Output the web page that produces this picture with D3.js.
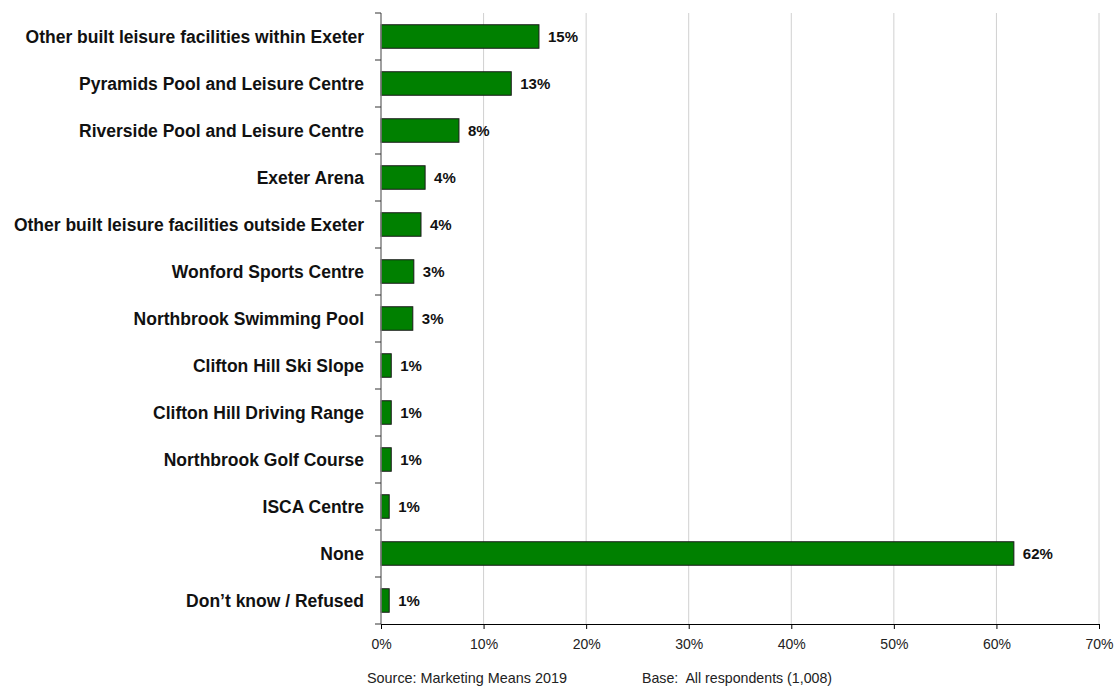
<!DOCTYPE html>
<html><head><meta charset="utf-8">
<script src="https://cdn.jsdelivr.net/npm/d3@7"></script>
<style>body{margin:0;background:#fff}svg{display:block}</style>
</head><body>
<script>
const categories = ["Other built leisure facilities within Exeter","Pyramids Pool and Leisure Centre","Riverside Pool and Leisure Centre","Exeter Arena","Other built leisure facilities outside Exeter","Wonford Sports Centre","Northbrook Swimming Pool","Clifton Hill Ski Slope","Clifton Hill Driving Range","Northbrook Golf Course","ISCA Centre","None","Don\u2019t know / Refused"];
const values = [15.4,12.7,7.6,4.3,3.9,3.2,3.1,1.0,1.0,1.0,0.8,61.7,0.8];
const valueLabels = ["15%","13%","8%","4%","4%","3%","3%","1%","1%","1%","1%","62%","1%"];
const xTicks = [0,10,20,30,40,50,60,70];
const sourceText = "Source: Marketing Means 2019";
const baseText = "Base:  All respondents (1,008)";

const W=1117,H=687;
const m={left:381,right:W-1099,top:13,bottom:H-624};
const FF="'Liberation Sans', Arial, sans-serif";
const svg=d3.select("body").append("svg").attr("width",W).attr("height",H).style("font-family",FF);
const x=d3.scaleLinear().domain([0,70]).range([m.left,W-m.right]);
const y=d3.scaleBand().domain(categories).range([m.top,H-m.bottom]).paddingInner(0.5).paddingOuter(0.25);

// gridlines
svg.append("g").selectAll("line").data(xTicks.slice(1)).join("line")
  .attr("x1",d=>x(d)).attr("x2",d=>x(d)).attr("y1",m.top).attr("y2",H-m.bottom)
  .attr("stroke","#d0d0d0").attr("stroke-width",1);

// bars
svg.append("g").selectAll("rect").data(values).join("rect")
  .attr("x",x(0)).attr("y",(d,i)=>y(categories[i]))
  .attr("width",d=>x(d)-x(0)).attr("height",y.bandwidth())
  .attr("fill","#008000").attr("stroke","#1a1a1a").attr("stroke-width",1);

// value labels
svg.append("g").selectAll("text").data(values).join("text")
  .attr("x",d=>x(d)+9).attr("y",(d,i)=>y(categories[i])+y.bandwidth()/2)
  .attr("dy","0.35em").attr("font-size",15).attr("font-weight","bold").attr("fill","#111")
  .text((d,i)=>valueLabels[i]);

// x axis
const xa=svg.append("g").attr("transform",`translate(0,${H-m.bottom})`)
  .call(d3.axisBottom(x).tickValues(xTicks).tickFormat(d=>d+"%").tickSize(5).tickPadding(10));
xa.select(".domain").attr("stroke","#000");
xa.selectAll(".tick line").attr("stroke","#000");
xa.selectAll("text").attr("font-size",14).attr("fill","#222").style("font-family",FF);

// y axis
const ya=svg.append("g").attr("transform",`translate(${m.left},0)`);
ya.append("line").attr("x1",0).attr("x2",0).attr("y1",m.top).attr("y2",H-m.bottom).attr("stroke","#808080").attr("stroke-width",1.5);
const bounds=d3.range(categories.length+1).map(i=>m.top+i*((H-m.bottom-m.top)/categories.length));
ya.selectAll("line.t").data(bounds).join("line").attr("class","t")
  .attr("x1",-6).attr("x2",0).attr("y1",d=>d).attr("y2",d=>d).attr("stroke","#333");
ya.selectAll("text").data(categories).join("text")
  .attr("x",-17).attr("y",d=>y(d)+y.bandwidth()/2).attr("dy","0.35em")
  .attr("text-anchor","end").attr("font-size",17.5).attr("font-weight","bold").attr("fill","#111")
  .text(d=>d);

// footer
svg.append("text").attr("x",367).attr("y",683).attr("font-size",14.4).attr("fill","#222").text(sourceText);
svg.append("text").attr("x",642).attr("y",683).attr("font-size",14.2).attr("fill","#222").style("white-space","pre").text(baseText);
</script>
</body></html>
